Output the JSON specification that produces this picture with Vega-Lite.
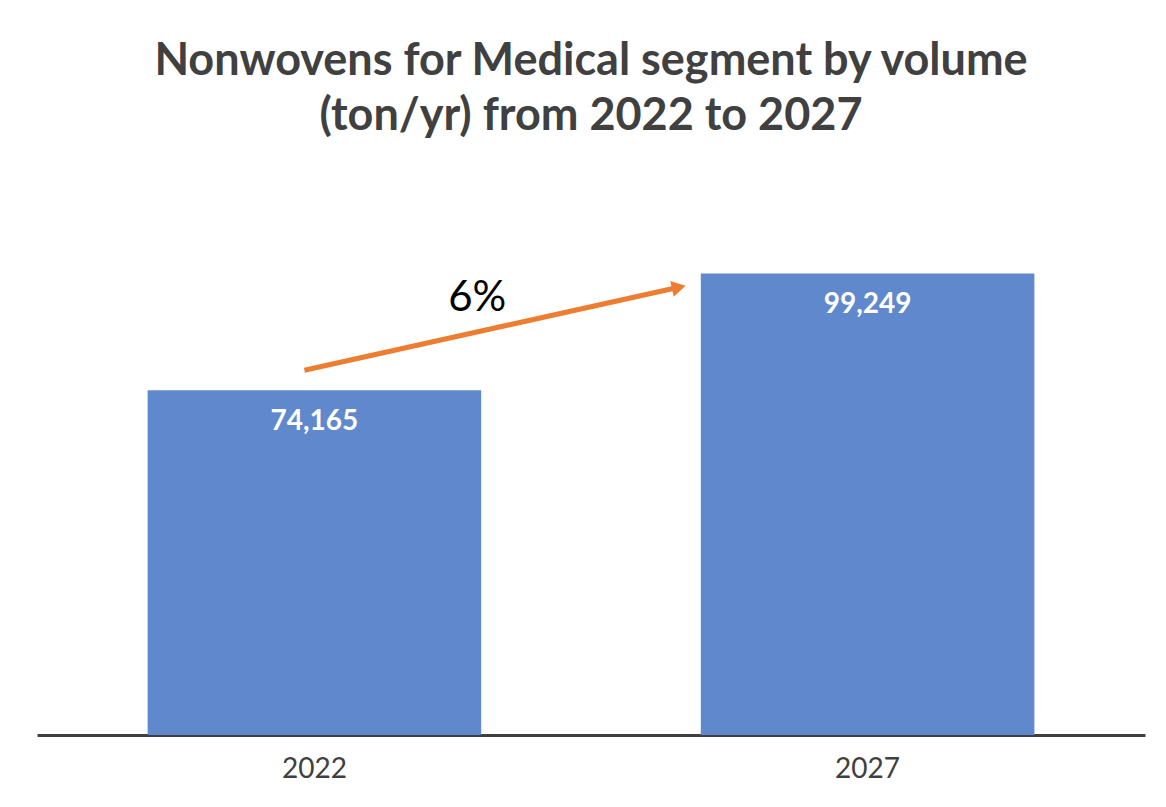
{
  "$schema": "https://vega.github.io/schema/vega-lite/v6.json",
  "width": 1108,
  "height": 558,
  "autosize": {"type": "none"},
  "padding": {"left": 37, "top": 177, "right": 21, "bottom": 72},
  "background": "white",
  "config": {"view": {"stroke": null}, "font": "Lato"},
  "title": {
    "text": ["Nonwovens for Medical segment by volume", "(ton/yr) from 2022 to 2027"],
    "font": "Lato",
    "fontSize": 45,
    "fontWeight": "bold",
    "color": "#404040",
    "anchor": "middle",
    "lineHeight": 55,
    "offset": 38
  },
  "datasets": {
    "bars": [
      {"year": "2022", "volume": 74165},
      {"year": "2027", "volume": 99249}
    ],
    "arrow": [
      {"year": "2022", "v": 78444, "year2": "2027", "v2": 96282, "label": "6%", "lv": 93918}
    ]
  },
  "layer": [
    {
      "data": {"name": "bars"},
      "mark": {"type": "bar", "color": "#6088CD"},
      "encoding": {
        "x": {
          "field": "year", "type": "nominal",
          "scale": {"paddingInner": 0.397, "paddingOuter": 0.2},
          "axis": {
            "title": null, "labelAngle": 0, "labelFontSize": 28, "labelColor": "#404040",
            "labelFont": "Lato", "labelPadding": 20, "ticks": false,
            "domainColor": "#404040", "domainWidth": 3
          }
        },
        "y": {
          "field": "volume", "type": "quantitative",
          "scale": {"domain": [0, 120000], "nice": false},
          "axis": null
        }
      }
    },
    {
      "data": {"name": "bars"},
      "mark": {"type": "text", "color": "white", "fontWeight": "bold", "fontSize": 28, "baseline": "middle", "dy": 32, "font": "Lato"},
      "encoding": {
        "x": {"field": "year", "type": "nominal"},
        "y": {"field": "volume", "type": "quantitative"},
        "text": {"field": "volume", "type": "quantitative", "format": ",d"}
      }
    },
    {
      "data": {"name": "arrow"},
      "mark": {"type": "rule", "color": "#ED7D31", "strokeWidth": 5},
      "encoding": {
        "x": {"field": "year", "type": "nominal", "bandPosition": 0.47},
        "x2": {"field": "year2", "bandPosition": -0.066},
        "y": {"field": "v", "type": "quantitative"},
        "y2": {"field": "v2"}
      }
    },
    {
      "data": {"name": "arrow"},
      "mark": {"type": "point", "shape": "triangle-right", "filled": true, "color": "#ED7D31", "size": 260, "angle": -12.5, "opacity": 1},
      "encoding": {
        "x": {"field": "year2", "type": "nominal", "bandPosition": -0.066},
        "y": {"field": "v2", "type": "quantitative"}
      }
    },
    {
      "data": {"name": "arrow"},
      "mark": {"type": "text", "color": "black", "fontSize": 42, "baseline": "middle", "align": "center", "font": "Lato"},
      "encoding": {
        "x": {"field": "year", "type": "nominal", "bandPosition": 0.988},
        "y": {"field": "lv", "type": "quantitative"},
        "text": {"field": "label"}
      }
    }
  ]
}
